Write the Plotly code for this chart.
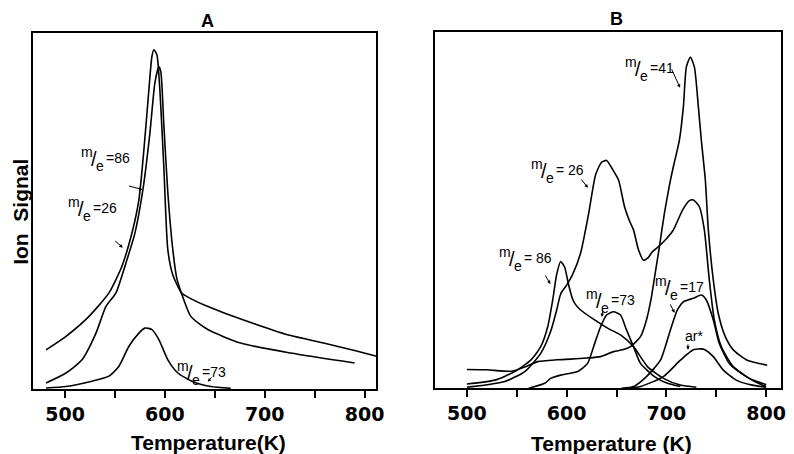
import plotly.graph_objects as go

# ---------------- Panel A data (temperature K, ion signal arb. units) ----------------
a_T26 = [481, 501, 524, 544, 557, 567, 574, 579, 584, 587, 589, 592, 595, 599, 603, 608, 616.5, 620, 640, 660, 693, 726, 759, 790, 812]
a_h26 = [11.0, 14.8, 20.4, 27.0, 34.5, 43.8, 53.2, 67.2, 84.1, 93.4, 95.3, 93.9, 84, 62, 39, 32, 27, 26.3, 23.5, 21.3, 18, 15, 12.9, 10.8, 9.2]

a_T86 = [481, 501, 517, 531, 541, 551, 560, 570, 578, 585, 590, 594, 596, 599, 603, 608, 612, 616.5, 626, 643, 676, 726, 790]
a_h86 = [1.7, 4.5, 8.2, 15.7, 23.2, 27, 34.5, 43.8, 56, 71.9, 86, 90.6, 89, 74, 55, 39, 31, 27, 20.4, 16.7, 12.9, 10.1, 7.3]

a_T73 = [481, 501, 527, 544, 554, 564, 574, 580, 587, 594, 603, 613, 627, 646, 666]
a_h73 = [0.3, 0.7, 2.2, 3.6, 6.4, 12, 15.7, 17.1, 16.7, 13.9, 8.2, 4.5, 2.2, 0.7, 0.2]

# ---------------- Panel B data ----------------
b_T41 = [500, 520, 545, 560, 571, 590, 604, 620, 634, 647, 656, 664, 674, 680, 685, 688, 693, 698, 703, 707, 713, 717, 720, 724, 728, 732, 735, 739, 742, 747, 752, 759, 767, 781, 801]
b_h41 = [5.3, 5.2, 4.8, 6.2, 7.5, 8.0, 8.2, 8.5, 8.9, 10.3, 10.8, 11.7, 14.5, 19.2, 25.7, 31, 39.8, 49.2, 57, 62.3, 69.7, 79.1, 90.3, 93, 90.3, 79.1, 69.7, 58.5, 44.5, 30.4, 21, 14.5, 10.8, 7.9, 6.5]

b_T26 = [500, 520, 538, 558, 574, 584, 590, 594, 600, 606, 614, 622, 629, 635, 640, 646, 652, 658, 663, 667, 672, 677, 682, 686, 692, 700, 707, 716, 723, 727, 733, 738, 743, 748, 755, 767, 783, 796, 800]
b_h26 = [0.3, 1.0, 1.9, 4.7, 9.8, 16, 22, 26.5, 29, 32, 38, 49, 60, 63.5, 64, 61.5, 58.5, 51, 47, 44.5, 38.9, 36, 36.8, 38.4, 39.8, 42, 44.5, 50, 52.7, 52.9, 51, 44.5, 30.4, 19.2, 11.7, 6.1, 2.8, 1.4, 1.0]

b_T86 = [500, 528, 548, 564, 574, 581, 586, 590, 594, 598, 602, 606, 609, 614, 628, 641, 654, 667, 681, 697, 714, 730]
b_h86 = [1.2, 2.3, 4.7, 7.9, 11.7, 17.3, 24.8, 32, 35.6, 34, 29, 25, 23.5, 22, 19.2, 16.9, 15, 11.7, 6.1, 2.8, 0.9, 0.3]

b_T73 = [562, 578, 584, 594, 611, 621, 627, 634, 640, 647, 654, 660, 667, 674, 688, 701, 714]
b_h73 = [0, 1.4, 2.8, 3.7, 4.7, 7, 11.7, 17.3, 20.6, 21.5, 20.6, 16.4, 11.7, 7, 3.3, 1.4, 0.5]

b_T17 = [655, 667, 680, 694, 704, 711, 717, 727, 735, 740, 747, 753, 763, 780, 796, 800]
b_h17 = [0, 0.5, 3.3, 7.9, 16.4, 22, 24.3, 25.3, 26.2, 24.8, 19.2, 12.6, 7, 3.3, 0.9, 0.5]

b_Tar = [660, 674, 697, 714, 727, 737, 747, 757, 770, 786, 800]
b_har = [0, 0.5, 3.3, 7.9, 10.8, 11, 8.9, 5.1, 2.3, 0.9, 0.3]

tick_vals = [500, 600, 700, 800]
tick_text = ["500", "600", "700", "800"]

# m/e labels: (value text, label origin T, h, arrow tip T, h, arrow tail dx, dy in px)
me_labels_a = [
    ("=86", 517.1, 67.8, 577.6, 56.0, -15, -4),
    ("=26", 504.3, 53.7, 557.8, 39.7, -9, -8),
    ("=73", 613.3, 7.7, 643.0, 2.05, 5, -6),
]
me_labels_b = [
    ("=41", 659.1, 92.8, 713.7, 84.4, -9, -20),
    ("= 26", 564.8, 64.1, 621.4, 56.3, -8, -10),
    ("= 86", 533.0, 39.4, 583.7, 29.3, -6, -10),
    ("=73", 620.4, 27.6, 635.3, 20.0, 1, -9),
    ("=17", 689.8, 31.3, 708.1, 21.2, -5, -10),
]
ar_label = ("ar*", 727.5, 14.7, 721.6, 10.8, 0, -7)

fig = go.Figure()
line = dict(color="black", width=1.6, shape="spline", smoothing=0.6)
for T, h in [(a_T26, a_h26), (a_T86, a_h86), (a_T73, a_h73)]:
    fig.add_trace(go.Scatter(x=T, y=h, mode="lines", line=line, xaxis="x", yaxis="y", showlegend=False, hoverinfo="skip"))
for T, h in [(b_T41, b_h41), (b_T26, b_h26), (b_T86, b_h86), (b_T73, b_h73), (b_T17, b_h17), (b_Tar, b_har)]:
    fig.add_trace(go.Scatter(x=T, y=h, mode="lines", line=line, xaxis="x2", yaxis="y2", showlegend=False, hoverinfo="skip"))

W, H = 794, 454
tickfont = dict(family="DejaVu Sans", size=19, color="black", weight="bold")
xcommon = dict(tickvals=tick_vals, ticktext=tick_text, ticks="outside", ticklen=7, tickwidth=1.5,
               tickcolor="black", showline=True, linecolor="black", linewidth=1.5, mirror=True,
               showgrid=False, zeroline=False, tickfont=tickfont,
               minor=dict(tick0=500, dtick=50, ticks="outside", ticklen=7, tickwidth=1.5, tickcolor="black", showgrid=False))
ycommon = dict(showticklabels=False, ticks="", showline=True, linecolor="black", linewidth=1.5,
               mirror=True, showgrid=False, zeroline=False, range=[0, 100])

annotations = []
f14 = dict(family="Liberation Sans", size=14, color="black")
f20 = dict(family="Liberation Sans", size=20, color="black")
arrow = dict(showarrow=True, arrowhead=2, arrowsize=0.7, arrowwidth=1, arrowcolor="black", text="")

for ref, labs in [("", me_labels_a), ("2", me_labels_b)]:
    xr, yr = "x" + ref, "y" + ref
    for val, lx, ly, tx, ty, dx, dy in labs:
        base = dict(x=lx, y=ly, xref=xr, yref=yr, showarrow=False, yanchor="middle")
        annotations.append(dict(text="m", xshift=5, yshift=-4, xanchor="center", font=f14, **base))
        annotations.append(dict(text="/", xshift=12, yshift=-11, xanchor="center", font=f20, **base))
        annotations.append(dict(text="e", xshift=18, yshift=-18, xanchor="center", font=f14, **base))
        annotations.append(dict(text=val, xshift=22, yshift=-10, xanchor="left", font=f14, **base))
        annotations.append(dict(x=tx, y=ty, xref=xr, yref=yr, ax=dx, ay=dy, **arrow))

t, lx, ly, tx, ty, dx, dy = ar_label
annotations.append(dict(x=lx, y=ly, xref="x2", yref="y2", text=t, showarrow=False, font=f14))
annotations.append(dict(x=tx, y=ty, xref="x2", yref="y2", ax=dx, ay=dy, **arrow))

title_font = dict(family="Liberation Sans", size=18, color="black", weight="bold")
axis_font = dict(family="Liberation Sans", size=21, color="black", weight="bold")
common = dict(xref="paper", yref="paper", showarrow=False, xanchor="center", yanchor="middle")
annotations += [
    dict(x=210 / W, y=1 - 21 / H, text="A", font=title_font, **common),
    dict(x=623 / W, y=1 - 19 / H, text="B", font=title_font, **common),
    dict(x=20 / W, y=1 - 212 / H, text="Ion  Signal", textangle=-90, font=axis_font, **common),
    dict(x=211 / W, y=1 - 442 / H, text="Temperature(K)", font=axis_font, **common),
    dict(x=618 / W, y=1 - 443 / H, text="Temperature (K)", font=axis_font, **common),
]

fig.update_layout(
    width=W, height=H, margin=dict(l=0, r=0, t=0, b=0),
    paper_bgcolor="white", plot_bgcolor="white",
    xaxis=dict(domain=[33 / W, 380 / W], range=[467.6, 811.6], anchor="y", **xcommon),
    yaxis=dict(domain=[1 - 389 / H, 1 - 33 / H], anchor="x", **ycommon),
    xaxis2=dict(domain=[439 / W, 789 / W], range=[467.6, 814.9], anchor="y2", **xcommon),
    yaxis2=dict(domain=[1 - 388.3 / H, 1 - 32.3 / H], anchor="x2", **ycommon),
    annotations=annotations,
)

fig.write_html("out.html", config={"displayModeBar": False},
               post_script="document.body.style.margin='0';document.body.style.overflow='hidden';")
